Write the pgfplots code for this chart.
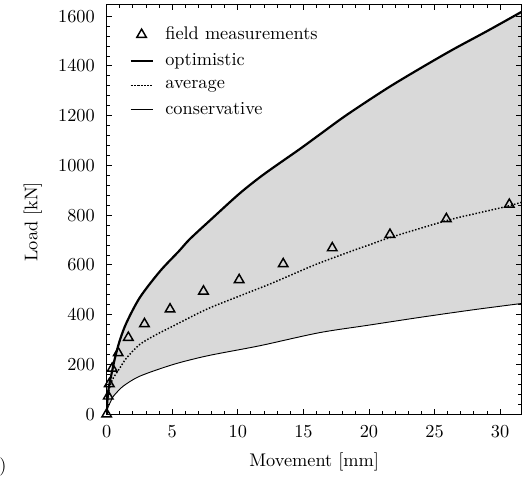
\documentclass[border=0pt]{standalone}
\usepackage{pgfplots}
\pgfplotsset{compat=1.18}
\usepgfplotslibrary{fillbetween}
\begin{document}
\begin{tikzpicture}
\begin{axis}[
 scale only axis, width=226.8pt, height=223.7pt,
 at={(0,0)}, anchor=south west,
 xmin=0, xmax=31.65, ymin=0, ymax=1646,
 xtick={0,5,...,30}, ytick={0,200,...,1600},
 minor x tick num=4, minor y tick num=4,
 major tick length=3pt, minor tick length=1.8pt,
 tick align=inside,
 axis on top,
 axis line style={line width=0.6pt},
 every tick/.style={black, line width=0.5pt},
 /pgf/number format/1000 sep={},
 xticklabel style={yshift=-3pt},
 yticklabel style={xshift=-3pt},
 xlabel={Movement [mm]}, ylabel={Load [kN]},
 xlabel style={at={(axis description cs:0.5,-0.117)}, anchor=center},
 ylabel style={at={(axis description cs:-0.178,0.47)}, anchor=center},
 legend style={at={(0.041,0.965)}, anchor=north west, draw=none, fill=none, row sep=2.2pt,
   /tikz/every odd column/.append style={column sep=4.4pt}},
 legend cell align=left,
 legend image code/.code={\draw[mark repeat=2,mark phase=2,#1] plot coordinates {(0cm,0cm) (0.21cm,0cm) (0.42cm,0cm)};},
]
\addplot[only marks, mark=triangle, mark size=3pt, mark options={fill=white, line width=0.8pt}] coordinates {
(0,0) (0.12,72) (0.2,122) (0.42,184) (0.88,246) (1.65,308) (2.88,363) (4.83,422)
(7.38,494) (10.1,540) (13.46,604) (17.2,668) (21.6,722) (25.9,785) (30.7,843)
};
\addlegendentry{field measurements}
\addplot[black, line width=1.2pt, smooth, name path=opt] coordinates {
(0,0) (0.03,40) (0.1,85) (0.2,120) (0.38,165) (0.64,228) (1.02,300) (1.53,370)
(2.54,470) (4.07,575) (5.5,655) (6.34,704) (8.0,785) (10.15,888) (12.0,965)
(14.7,1065) (16.26,1125) (18.3,1203) (21.35,1309) (23.9,1390) (26.4,1466)
(29.0,1540) (31.65,1618)
};
\addlegendentry{optimistic}
\addplot[black, line width=0.8pt, densely dotted, smooth] coordinates {
(0,0) (0.02,30) (0.06,55) (0.15,90) (0.3,120) (0.51,146) (1.02,187) (1.53,227)
(2.54,281) (3.82,321) (5.09,355) (7.63,422) (10.18,476) (12.2,518) (13.2,540)
(16.0,603) (18.8,658) (20.1,682) (21.6,710) (25.9,778) (28.0,805) (30.25,832)
(31.65,852)
};
\addlegendentry{average}
\addplot[black, line width=0.5pt, smooth, name path=cons] coordinates {
(0,0) (0.02,10) (0.08,25) (0.25,45) (0.48,70) (0.64,80) (1.27,113) (2.54,153)
(5.09,200) (7.63,234) (10.9,267) (12.2,281) (16.26,328) (20.0,358) (24.0,390)
(28.0,420) (31.65,445)
};
\addlegendentry{conservative}
\addplot[black!15, forget plot] fill between[of=opt and cons];
\end{axis}
\node[anchor=base east, inner sep=0pt] at (-54.5pt,-31.4pt) {(a)};
\pgfresetboundingbox
\path[use as bounding box] (-58.3pt,-33.9pt) rectangle (231.3pt,226.3pt);
\end{tikzpicture}
\end{document}
